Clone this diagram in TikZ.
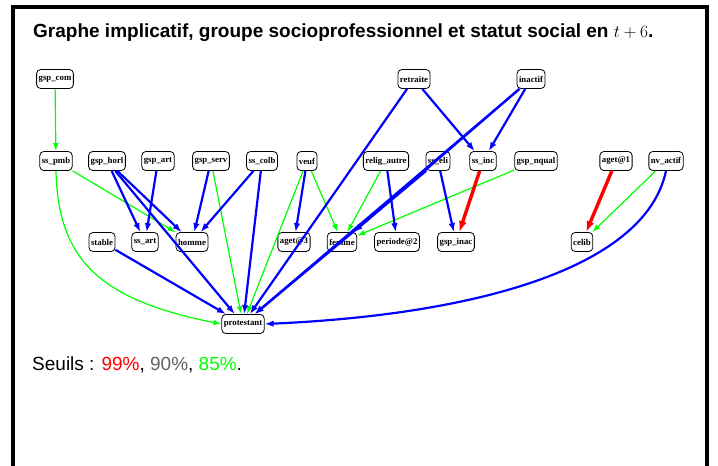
\documentclass[tikz,border=0pt]{standalone}
\usepackage{fontspec}
\newfontfamily\nodefont{Liberation Serif}
\newfontfamily\helv{Liberation Sans}
\usetikzlibrary{arrows.meta}
\definecolor{gB}{RGB}{0,0,255}
\definecolor{gG}{RGB}{0,255,0}
\definecolor{gR}{RGB}{255,0,0}
\definecolor{gGray}{RGB}{100,100,100}
\tikzset{
  gnode/.style={draw=black, line width=0.8, rounded corners=4, minimum height=19, inner xsep=2, inner ysep=0,
    font=\nodefont\bfseries\fontsize{8.8}{9}\selectfont},
  blueE/.style={draw=gB, line width=2.2, -{Latex[length=9,width=6.5]}},
  greenE/.style={draw=gG, line width=1.2, -{Latex[length=8,width=5.5]}},
  redE/.style={draw=gR, line width=3.4, -{Latex[length=11,width=8]}},
}
\begin{document}
\begin{tikzpicture}[x=1pt,y=-1pt]
\useasboundingbox (0,0) rectangle (718,466);
\draw[line width=4] (13,480) -- (13,7) -- (707,7) -- (707,480);
\node[anchor=base west, inner sep=0, font=\helv\bfseries\fontsize{19}{22}\selectfont] (title) at (33,37) {Graphe implicatif, groupe socioprofessionnel et statut social en $t+6$.};
% nodes
\node[gnode] (gspcom) at (55,79) {gsp\_com};
\node[gnode] (retraite) at (414,79) {retraite};
\node[gnode] (inactif) at (531,79) {inactif};
\node[gnode] (sspmb) at (56,161) {ss\_pmb};
\node[gnode] (gsphorl) at (107,161) {gsp\_horl};
\node[gnode] (gspart) at (158,161) {gsp\_art};
\node[gnode] (gspserv) at (211,161) {gsp\_serv};
\node[gnode] (sscolb) at (262,161) {ss\_colb};
\node[gnode] (veuf) at (307,161) {veuf};
\node[gnode] (religautre) at (386,161) {relig\_autre};
\node[gnode] (sseli) at (438,161) {ss\_eli};
\node[gnode] (ssinc) at (483,161) {ss\_inc};
\node[gnode] (gspnqual) at (536,161) {gsp\_nqual};
\node[gnode] (aget1) at (616,161) {aget@1};
\node[gnode] (nvactif) at (666,161) {nv\_actif};
\node[gnode] (stable) at (102,242) {stable};
\node[gnode] (ssart) at (145,242) {ss\_art};
\node[gnode] (homme) at (192,242) {homme};
\node[gnode] (aget3) at (294,242) {aget@3};
\node[gnode] (femme) at (342,242) {femme};
\node[gnode] (periode2) at (397,242) {periode@2};
\node[gnode] (gspinac) at (456,242) {gsp\_inac};
\node[gnode] (celib) at (582,242) {celib};
\node[gnode] (protestant) at (243,324) {protestant};
% green edges
\draw[greenE] (gspcom) -- (sspmb);
\draw[greenE] (sspmb) -- (homme);
\draw[greenE] (sspmb.south) .. controls (58,260) and (100,300) .. (protestant.west);
\draw[greenE] (gspserv) -- (protestant);
\draw[greenE] (veuf) -- (femme);
\draw[greenE] (veuf) -- (protestant);
\draw[greenE] (religautre) -- (femme);
\draw[greenE] (gspnqual) -- (femme);
\draw[greenE] (nvactif) -- (celib);
% blue edges
\draw[blueE] (gsphorl) -- (ssart);
\draw[blueE] (gsphorl) -- (homme);
\draw[blueE] (gsphorl) -- (protestant);
\draw[blueE] (gspart) -- (ssart);
\draw[blueE] (gspserv) -- (homme);
\draw[blueE] (sscolb) -- (homme);
\draw[blueE] (sscolb) -- (protestant);
\draw[blueE] (veuf) -- (aget3);
\draw[blueE] (stable) -- (protestant);
\draw[blueE] (retraite) -- (ssinc);
\draw[blueE] (retraite) -- (protestant);
\draw[blueE] (inactif) -- (ssinc);
\draw[blueE] (inactif) -- (femme);
\draw[blueE] (inactif) -- (protestant);
\draw[blueE] (sseli) -- (protestant);
\draw[blueE] (religautre) -- (periode2);
\draw[blueE] (sseli) -- (gspinac);
\draw[blueE] (nvactif.south) .. controls (645,270) and (470,315) .. (protestant.east);
% red edges
\draw[redE] (ssinc) -- (gspinac);
\draw[redE] (aget1) -- (celib);
% thresholds
\node[anchor=base west, inner sep=0, font=\helv\fontsize{19}{22}\selectfont] (seuils) at (32,370) {Seuils : \textcolor{gR}{99\%}, \textcolor{gGray}{90\%}, \textcolor{gG}{85\%}.};
\end{tikzpicture}
\end{document}
